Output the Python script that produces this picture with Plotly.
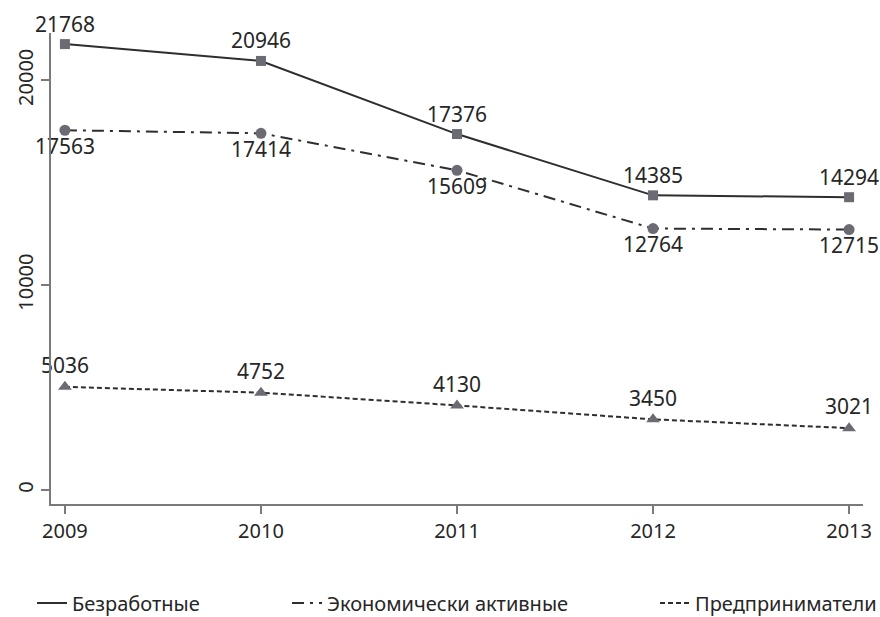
import plotly.graph_objects as go

years = [2009, 2010, 2011, 2012, 2013]
unemployed = [21768, 20946, 17376, 14385, 14294]
active = [17563, 17414, 15609, 12764, 12715]
entrepreneurs = [5036, 4752, 4130, 3450, 3021]
names = ["Безработные", "Экономически активные", "Предприниматели"]
y_ticks = [0, 10000, 20000]

FONT = "Noto Sans"
LINE_C = "#2e2e2e"
MARK_C = "#6b6b73"
TXT_C = "#262626"
AX_C = "#7a7a7a"

W, H = 880, 617

fig = go.Figure()

series = [
    (unemployed, "solid", "square", 10, "top center"),
    (active, "12px,6px,3px,6px", "circle", 11, "bottom center"),
    (entrepreneurs, "5px,3px", "triangle-up", 12, "top center"),
]

for vals, dash, sym, ms, tpos in series:
    fig.add_trace(go.Scatter(
        x=years, y=vals, mode="lines+markers+text",
        text=[str(v) for v in vals], textposition=tpos,
        textfont=dict(family=FONT, size=21, color=TXT_C),
        line=dict(color=LINE_C, width=2, dash=dash),
        marker=dict(symbol=sym, size=ms, color=MARK_C),
        showlegend=False, cliponaxis=False, hoverinfo="skip",
    ))

legend_ids = ["legend", "legend2", "legend3"]
legend_x_px = [32, 287, 655]
for (vals, dash, sym, ms, tpos), nm, lid in zip(series, names, legend_ids):
    fig.add_trace(go.Scatter(
        x=[None], y=[None], mode="lines", name=nm,
        line=dict(color=LINE_C, width=2, dash=dash),
        showlegend=True, legend=lid,
    ))

layout_legends = {}
for lid, px in zip(legend_ids, legend_x_px):
    layout_legends[lid] = dict(
        orientation="h", xref="container", yref="container",
        x=px / W, xanchor="left", y=(H - 603) / H, yanchor="middle",
        font=dict(family=FONT, size=20, color=TXT_C),
        bgcolor="rgba(0,0,0,0)", itemwidth=30,
    )

fig.update_layout(
    width=W, height=H,
    margin=dict(l=51, r=17, t=33, b=113, autoexpand=False),
    paper_bgcolor="white", plot_bgcolor="white",
    font=dict(family=FONT, size=20, color=TXT_C),
    xaxis=dict(
        range=[2008.929, 2013.071], tickmode="array", tickvals=years,
        ticktext=[str(y) for y in years], automargin=False,
        showgrid=False, zeroline=False,
        showline=True, linecolor=AX_C, linewidth=2,
        ticks="outside", ticklen=8, tickwidth=1.5, tickcolor=AX_C,
        tickfont=dict(family=FONT, size=20, color=TXT_C),
    ),
    yaxis=dict(
        range=[-683, 22310], tickmode="array", tickvals=y_ticks,
        ticktext=[str(v) for v in y_ticks], tickangle=-90, automargin=False,
        showgrid=False, zeroline=False,
        showline=True, linecolor=AX_C, linewidth=2,
        ticks="outside", ticklen=8, tickwidth=1.5, tickcolor=AX_C,
        tickfont=dict(family=FONT, size=20, color=TXT_C),
    ),
    **layout_legends,
)

fig.write_html(
    "out.html",
    config={"displayModeBar": False},
    post_script="document.body.style.margin='0';document.body.style.overflow='hidden';",
)
